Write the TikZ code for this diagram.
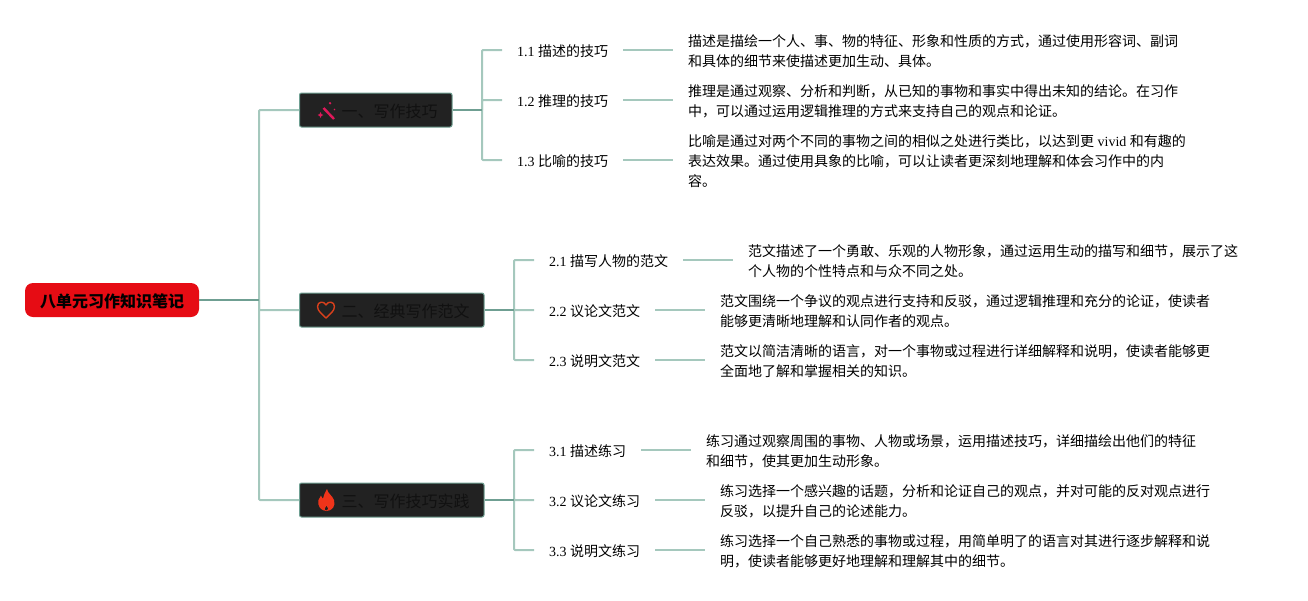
\documentclass[tikz,border=0pt]{standalone}
\usepackage{fontspec}
\setmainfont{Noto Sans CJK SC}
\newfontfamily\lat{Liberation Serif}
\definecolor{lightline}{HTML}{A5C8BD}
\definecolor{darkline}{HTML}{6F9F92}
\definecolor{boxfill}{HTML}{222222}
\definecolor{rootred}{HTML}{E60C14}
\definecolor{inktext}{HTML}{111111}
\definecolor{wandred}{HTML}{E0185A}
\definecolor{heartred}{HTML}{D9401C}
\definecolor{flamered}{HTML}{F0341A}
\newcommand{\down}[1]{\raisebox{-1pt}[\height][\depth]{#1}}
\tikzset{
  rootbox/.style={draw=none,fill=rootred,rounded corners=8pt,minimum width=174pt,minimum height=34pt,inner sep=0pt,font=\fontsize{16}{20}\selectfont\bfseries,text=black},
  topicbox/.style={draw=darkline,line width=1pt,fill=boxfill,rounded corners=2pt,minimum height=34pt,inner xsep=0pt,inner ysep=0pt,anchor=west,font=\fontsize{16}{20}\selectfont,text=inktext},
  subtopic/.style={anchor=west,inner xsep=15pt,inner ysep=0pt,font=\fontsize{14}{20}\selectfont,text=black},
  desc/.style={anchor=west,inner xsep=15pt,inner ysep=0pt,align=left,font=\fontsize{14}{20}\selectfont,text=black},
  light/.style={draw=lightline,line width=2pt,line join=round},
  dark/.style={draw=darkline,line width=2pt},
}
\begin{document}
\begin{tikzpicture}[x=1pt,y=-1pt]
\useasboundingbox (0,0) rectangle (1308,600);
% root and topics
\node[rootbox] (root) at (112,300) {\down{八单元习作知识笔记}};
\node[topicbox] (t1) at (299,110) {\hspace*{42pt}\down{一、写作技巧}\hspace*{14.5pt}};
\node[topicbox] (t2) at (299,310) {\hspace*{42pt}\down{二、经典写作范文}\hspace*{14.5pt}};
\node[topicbox] (t3) at (299,500) {\hspace*{42pt}\down{三、写作技巧实践}\hspace*{14.5pt}};
% sub topics
\node[subtopic] (s11) at (502,50) {\down{{\lat 1.1 }描述的技巧}};
\node[subtopic] (s12) at (502,100) {\down{{\lat 1.2 }推理的技巧}};
\node[subtopic] (s13) at (502,160) {\down{{\lat 1.3 }比喻的技巧}};
\node[subtopic] (s21) at (534,260) {\down{{\lat 2.1 }描写人物的范文}};
\node[subtopic] (s22) at (534,310) {\down{{\lat 2.2 }议论文范文}};
\node[subtopic] (s23) at (534,360) {\down{{\lat 2.3 }说明文范文}};
\node[subtopic] (s31) at (534,450) {\down{{\lat 3.1 }描述练习}};
\node[subtopic] (s32) at (534,500) {\down{{\lat 3.2 }议论文练习}};
\node[subtopic] (s33) at (534,550) {\down{{\lat 3.3 }说明文练习}};
% descriptions
\node[desc] (d11) at (673,51) {描述是描绘一个人、事、物的特征、形象和性质的方式，通过使用形容词、副词\\和具体的细节来使描述更加生动、具体。};
\node[desc] (d12) at (673,101) {推理是通过观察、分析和判断，从已知的事物和事实中得出未知的结论。在习作\\中，可以通过运用逻辑推理的方式来支持自己的观点和论证。};
\node[desc] (d13) at (673,161) {比喻是通过对两个不同的事物之间的相似之处进行类比，以达到更{\lat\ vivid }和有趣的\\表达效果。通过使用具象的比喻，可以让读者更深刻地理解和体会习作中的内\\容。};
\node[desc] (d21) at (733,261) {范文描述了一个勇敢、乐观的人物形象，通过运用生动的描写和细节，展示了这\\个人物的个性特点和与众不同之处。};
\node[desc] (d22) at (705,311) {范文围绕一个争议的观点进行支持和反驳，通过逻辑推理和充分的论证，使读者\\能够更清晰地理解和认同作者的观点。};
\node[desc] (d23) at (705,361) {范文以简洁清晰的语言，对一个事物或过程进行详细解释和说明，使读者能够更\\全面地了解和掌握相关的知识。};
\node[desc] (d31) at (691,451) {练习通过观察周围的事物、人物或场景，运用描述技巧，详细描绘出他们的特征\\和细节，使其更加生动形象。};
\node[desc] (d32) at (705,501) {练习选择一个感兴趣的话题，分析和论证自己的观点，并对可能的反对观点进行\\反驳，以提升自己的论述能力。};
\node[desc] (d33) at (705,551) {练习选择一个自己熟悉的事物或过程，用简单明了的语言对其进行逐步解释和说\\明，使读者能够更好地理解和理解其中的细节。};
% junctions
\coordinate (j0) at (259,300);
\coordinate (j1) at (482,110);
\coordinate (j2) at (514,310);
\coordinate (j3) at (514,500);
% light branches
\foreach \n in {t1,t2,t3}
  \draw[light,rounded corners=1pt] (j0) -- (j0 |- \n.west) -- (\n.west);
\foreach \n in {s11,s12,s13}
  \draw[light,rounded corners=1pt] (j1) -- (j1 |- \n.west) -- (\n.west);
\foreach \n in {s21,s22,s23}
  \draw[light,rounded corners=1pt] (j2) -- (j2 |- \n.west) -- (\n.west);
\foreach \n in {s31,s32,s33}
  \draw[light,rounded corners=1pt] (j3) -- (j3 |- \n.west) -- (\n.west);
% sub topic to description
\foreach \a/\b in {s11/d11,s12/d12,s13/d13,s21/d21,s22/d22,s23/d23,s31/d31,s32/d32,s33/d33}
  \draw[light] (\a.east) -- (\a.east -| \b.west);
% dark stems
\draw[dark] (root.east) -- (j0);
\draw[dark] (t1.east) -- (j1);
\draw[dark] (t2.east) -- (j2);
\draw[dark] (t3.east) -- (j3);
% wand icon
\draw[wandred,line width=2.4pt] (323.5,108) -- (334,119);
\fill[wandred] (320.5,112) -- (321.4,114.1) -- (323.5,115) -- (321.4,115.9) -- (320.5,118) -- (319.6,115.9) -- (317.5,115) -- (319.6,114.1) -- cycle;
\fill[wandred] (330,103.2) circle (1.3pt) (334.5,109.5) circle (.9pt);
% heart icon
\draw[heartred,line width=1.4pt,line join=round]
  (326,318) .. controls (322,314) and (317.5,311) .. (317.5,306.5)
  .. controls (317.5,301.5) and (324,300.5) .. (326,305)
  .. controls (328,300.5) and (334.5,301.5) .. (334.5,306.5)
  .. controls (334.5,311) and (330,314) .. (326,318) -- cycle;
% flame icon
\fill[flamered,even odd rule]
  (327,489) .. controls (328,494) and (332,495) .. (334,500)
  .. controls (336,506) and (332,511) .. (326.5,511)
  .. controls (321,511) and (317,506) .. (318.5,500)
  .. controls (319,498) and (320,497) .. (321,495.5)
  .. controls (321.5,497) and (322,498) .. (323,498.5)
  .. controls (324,495) and (325,492) .. (327,489) -- cycle
  (326.5,510.5) .. controls (325,510.5) and (324.3,509.5) .. (324.8,508.5)
  .. controls (325.3,507.5) and (326,506.5) .. (326.5,505.5)
  .. controls (327.5,506.5) and (328.3,507.5) .. (328.3,508.8)
  .. controls (328.3,509.8) and (327.5,510.5) .. (326.5,510.5) -- cycle;
\end{tikzpicture}
\end{document}
